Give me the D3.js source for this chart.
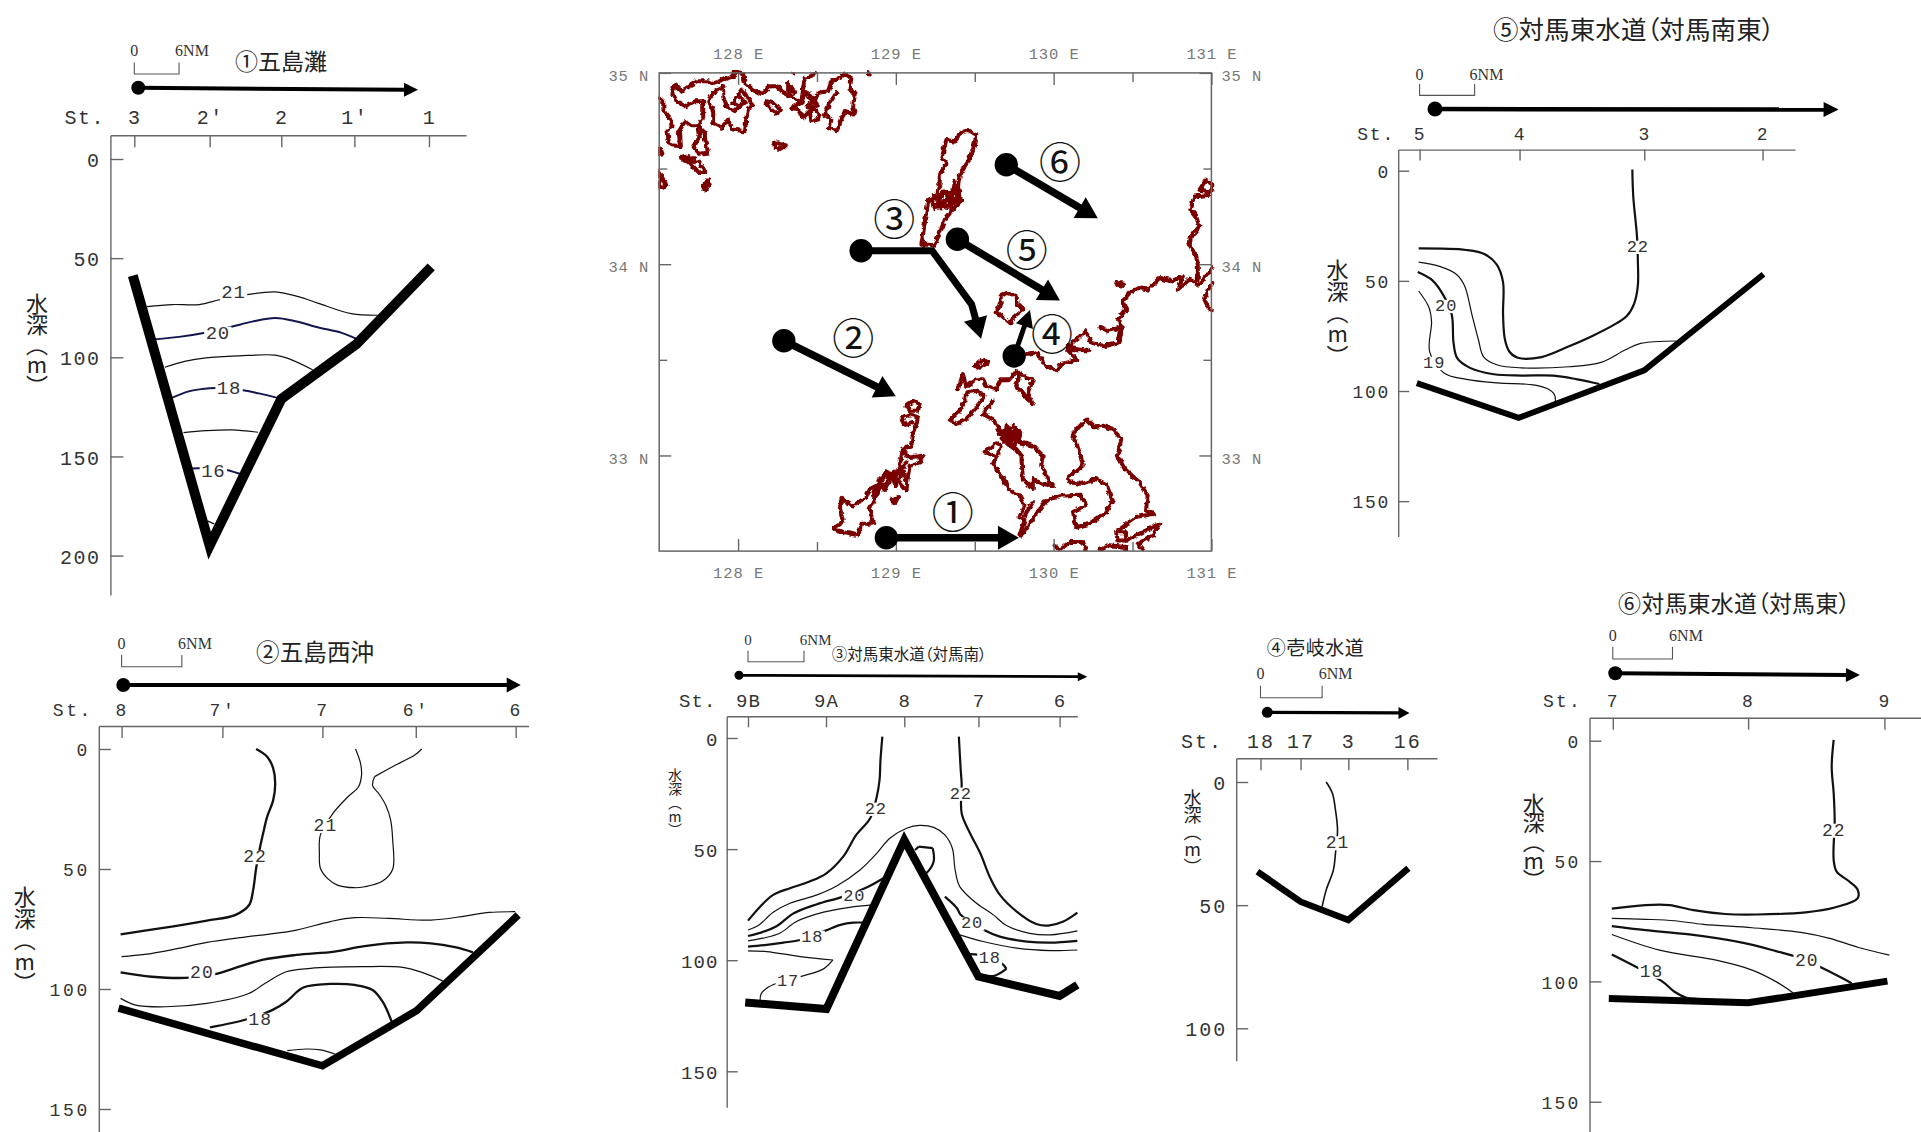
<!DOCTYPE html>
<html><head><meta charset="utf-8">
<style>html,body{margin:0;padding:0;background:#fff}svg{display:block}</style>
<script src="https://cdnjs.cloudflare.com/ajax/libs/d3/7.8.5/d3.min.js"></script>
</head><body><svg id="c" width="1921" height="1132" xmlns="http://www.w3.org/2000/svg"></svg>
<script>
// ---------- section data: x = nautical miles along section, d = depth (m) ----------
const p1Title="①五島灘";
const p1Stations=["3","2′","2","1′","1"];
const p1StationNM=[0,10.1,19.7,29.5,39.5];
const p1Depths=[0,50,100,150,200];
const p1Bottom=[[-0.2,58.8],[10.1,195],[19.7,121],[29.8,93.3],[39.8,54.4]];
const p1Contours=[
 {t:21,pts:[[1.7,74.4],[5.1,73.4],[8.7,73.4],[11.6,70.8],[15.1,68.4],[18.9,67],[22,69.4],[24.7,72.8],[29.1,78],[32.7,78.8]]},
 {t:20,pts:[[2.3,91.1],[6,89.7],[9.3,87.7],[12.9,84.7],[15.8,82],[18.9,80.2],[21.6,81.8],[24.7,85],[27.8,87.7],[30.7,92.3]]},
 {t:19,pts:[[4.1,105],[6.9,101.9],[9.6,100.3],[14,99.3],[18.9,98.9],[20.7,100.7],[23.9,106.3]]},
 {t:18,pts:[[4.7,121],[7.3,117.2],[9.1,116],[10.9,115.5],[14.4,116.5],[16.7,118.2],[20,121.2]]},
 {t:17,pts:[[6.6,138],[9.6,137],[13.1,136.6],[16.6,137.8]]},
 {t:16,pts:[[7.4,156.1],[8.8,155.9],[12.2,156.7],[14.8,159.7]]},
 {t:15,pts:[[9.8,182.5],[10.7,184]]}];
const p1Labels=[[21,13.3,67.4],[20,11.2,88.3],[18,12.7,116.2],[16,10.6,157.7]];

const p2Title="②五島西沖";
const p2Stations=["8","7′","7","6′","6"];
const p2StationNM=[0,10.04,20,29.3,39.25];
const p2Depths=[0,50,100,150];
const p2Bottom=[[-0.3,108],[20,132],[29.4,109],[39.5,69.2]];
const p2Contours=[
 {t:22,pts:[[13.4,0],[14.5,3.2],[15.1,8.1],[15.3,14.3],[15.1,21.3],[14.5,28.2],[14.1,35.1],[13.8,40.7],[13.4,49.7],[13.1,58.8],[12.7,65],[11.3,69.2],[8.5,71.5],[5,74],[-0.1,77.2]]},
 {t:21,pts:[[23.3,0],[23.8,6],[23.9,10.8],[23.6,15.7],[22.5,20.1],[21,27.1],[19.8,35.8],[19.7,43.5],[19.8,49.7],[20.5,53.9],[21.5,56.7],[23.2,57.8],[24.2,57.4],[26,55],[27,50.1],[27,37.9],[26.8,29.6],[26.3,23.3],[25.6,18.5],[25,15.3],[25.2,11.5]]},
 {t:21,pts:[[25.2,11.5],[27.3,6.7],[29.2,2.5],[29.9,0]]},
 {t:21,pts:[[0,86.5],[2.3,85.6],[5.4,83.3],[8.5,80.6],[12.6,78.2],[17,75.8],[20.8,71.9],[23.2,70.3],[26.6,70.6],[30.8,71.3],[34.2,69.6],[36.6,68.1],[39.2,67.8]]},
 {t:20,pts:[[-0.1,93.1],[3,94.9],[6.8,95.3],[9.3,93.8],[11.2,91.4],[14,87.9],[17.4,85.8],[21.2,84.4],[24.2,82.1],[28.4,80.6],[30.8,81],[33.2,82.6],[35,84.7]]},
 {t:19,pts:[[-0.1,103.9],[1.4,106.7],[4.4,107.4],[8.5,106],[12.6,102],[14.3,97.6],[16.4,92.8],[18.8,91.4],[23.9,90.7],[28,91],[30,93.2],[32,96.7]]},
 {t:18,pts:[[8.8,116],[12.6,112.5],[15,108.8],[16.4,105.3],[18.1,99.4],[20.8,97.9],[23.2,98.3],[25,100.4],[26,105.3],[26.9,113.6]]},
 {t:17,pts:[[16.5,125.7],[18.4,125],[19.8,125.4],[21.3,127.2]]}];
const p2Labels=[[22,13.3,45.1],[21,20.3,32.1],[20,8,93.5],[18,13.8,112.9]];

const p3Title="③対馬東水道（対馬南）";
const p3Stations=["9B","9A","8","7","6"];
const p3StationNM=[0,8.36,16.75,24.7,33.4];
const p3Depths=[0,50,100,150];
const p3Bottom=[[-0.3,119],[8.4,122],[16.75,45.9],[24.7,107.4],[33.4,116.1],[35.3,111.1]];
const p3Contours=[
 {t:22,pts:[[14.4,-0.6],[14.2,9.9],[14.1,18.9],[13.8,26.4],[13.1,36.1],[11.6,43.6],[10.2,53.4],[8.4,60.9],[6.6,64.6],[4.5,67.6],[2.7,70.6],[1.3,75.9],[0,82.2]]},
 {t:22,pts:[[22.6,-0.6],[22.8,14.4],[22.9,20.4],[22.9,33.9],[23.8,42.9],[24.9,51.9],[25.9,62.4],[27,70.6],[28.8,78.1],[30.9,83.7],[32.2,84.4],[33.8,82.6],[35.3,78.6]]},
 {t:21,pts:[[0,86.4],[1.1,84.4],[2.7,78.4],[4.5,74.4],[7.4,70.6],[9.5,66.6],[12,59.4],[13.8,51.9],[15.2,45.1],[17,40.6],[18.4,39.3],[19.9,40.2],[21.1,43.6],[21.9,49.6],[22.2,59.4],[22.7,66.9],[24.5,74.4],[26.3,79.6],[27.7,84.4],[30.2,87.9],[32.4,88.6],[35.3,86.8]]},
 {t:20,pts:[[0,89.1],[1.7,87.1],[3.1,84.6],[4.9,78.9],[7.4,74.8],[10.2,71.4],[12.7,67.3],[14.5,63.1]]},
 {t:20,pts:[[17.9,50.4],[18.3,48.9]]},
 {t:20,pts:[[18.3,48.9],[19.8,49.6]]},
 {t:20,pts:[[19.8,49.6],[19.9,55.6],[19.1,60.9],[18.6,62]]},
 {t:20,pts:[[21.1,71.4],[22.4,76.6],[22.8,79.6],[25.3,86.4],[27,89.4],[29.9,91.6],[32.4,92.1],[35.3,91.3]]},
 {t:19,pts:[[0,91.3],[1.6,90.1],[3.4,87.9],[5.2,82.6],[8.1,78.4],[10.9,76.2],[13.3,75.1]]},
 {t:19,pts:[[22.7,88.6],[25.2,91.6],[28.8,94.6],[32.4,95.7],[35.3,95.4]]},
 {t:18,pts:[[0,93.9],[2,93.1],[3.8,92.1],[5.6,90.9],[8.3,86.7],[9.9,84.1],[11.3,83.1],[12.4,83.1]]},
 {t:18,pts:[[23.8,97.3],[24.7,97.6],[27.2,101.4],[27.7,103.9]]},
 {t:18,pts:[[27.7,103.9],[26.3,107.1],[24.9,106.3]]},
 {t:17,pts:[[0,95.8],[2,96.1],[5.6,98.4],[9.1,99.9]]},
 {t:17,pts:[[9.1,99.9],[8.1,103.9],[5.6,107.4],[3.1,110.4],[2,112.6],[1.4,115.2],[1.3,117.9]]}];
const p3Labels=[[22,13.7,32.1],[22,22.8,25.3],[20,11.4,71.4],[20,24,83.7],[18,6.9,89.7],[18,25.9,99.1],[17,4.3,109.6]];

const p4Title="④壱岐水道";
const p4Stations=["18","17","3","16"];
const p4StationNM=[0,3.9,8.55,14.3];
const p4Depths=[0,50,100];
const p4Bottom=[[-0.3,36.4],[3.9,48.6],[8.55,56],[14.4,35]];
const p4Contours=[{t:21,pts:[[6.4,0],[7,4.6],[7.3,11.4],[7.5,19.5],[7.3,29],[7.1,35.7],[6.4,43.8],[6,50.6]]}];
const p4Labels=[[21,7.5,24.9]];

const p5Title="⑤対馬東水道（対馬南東）";
const p5Stations=["5","4","3","2"];
const p5StationNM=[0,10.9,24.5,37.4];
const p5Depths=[0,50,100,150];
const p5Bottom=[[-0.3,96.4],[10.8,112.2],[24.5,90.6],[37.5,47]];
const p5Contours=[
 {t:22,pts:[[23.2,-0.5],[23.3,11.7],[23.7,29.5],[23.8,40.8],[23.8,52.2],[23.4,60.3],[22.6,66],[21.5,69.2],[18.9,74.9],[16.3,79.7],[13.3,84.6],[10.7,84.9],[9.8,82.2],[9.3,76.5],[9.1,65.2],[9.1,50.6],[8.4,42.5],[7.1,37.9],[5.1,36],[-0.1,35.3]]},
 {t:21,pts:[[-0.1,41.5],[2.1,43.3],[4,47],[4.9,52.2],[5.7,65.2],[6.4,76.5],[7,84.6],[8.5,88.2],[11.1,89.5],[16.3,89],[19.8,87],[22.4,81.4],[24.1,78.4],[28,77.3]]},
 {t:20,pts:[[-0.2,46],[1.4,49.8],[2.6,56.6],[3.5,65.2],[3.7,78.1],[4.1,85.1],[5.5,89.5],[8.1,92.4],[11.1,93],[14.6,93],[17.2,94.7],[19.6,96.8]]},
 {t:19,pts:[[-0.1,54.6],[1,61.9],[1.3,68.4],[1.1,82.2],[2.7,91.9],[5.1,94.7],[8.5,96.3],[12.4,97.2],[13.9,98.9],[14.7,101.6],[14.8,104.9]]}];
const p5Labels=[[22,23.8,34.8],[20,2.9,61.6],[19,1.6,87.5]];

const p6Title="⑥対馬東水道（対馬東）";
const p6Stations=["7","8","9"];
const p6StationNM=[0,13.6,27.3];
const p6Depths=[0,50,100,150];
const p6Bottom=[[-0.4,107.1],[13.6,108.9],[27.6,99.9]];
const p6Contours=[
 {t:22,pts:[[22.2,-0.3],[22,10.8],[22.2,21.9],[22.3,33],[22.2,49.6],[22.5,54.4],[23.8,58.6],[24.6,61.8],[24.6,65.5],[22.3,69.3],[19.4,71.3],[14.5,72.2],[11.3,72],[8.1,70.4],[5.7,68.3],[3.3,68.3],[-0.1,69.8]]},
 {t:21,pts:[[-0.1,73.8],[3.3,74.2],[6.2,74.8],[9.1,76.3],[14,77.7],[18.9,79.6],[21.8,82.1],[24.7,85.9],[27.8,89.1]]},
 {t:20,pts:[[-0.1,77],[3.3,78.7],[7.7,80.5],[13,83.9],[16.4,87.4],[18.6,90],[20.8,93.9],[22.8,98.1],[24,100.8]]},
 {t:19,pts:[[-0.1,80.5],[4.7,87],[10.6,91.4],[14,95.3],[16.4,100.1],[18.1,104.7]]},
 {t:18,pts:[[-0.1,88.8],[2.5,94.3],[5,100.1],[6.2,104.3],[7.4,106.8],[8.4,107.3]]}];
const p6Labels=[[22,22.2,37.4],[20,19.5,91.6],[18,3.9,96]];

const yLabelText="水深（m）";
const scaleBarNM=6;

// ---------- map data: [lon, lat] ----------
const mapLon=[128,129,130,131];
const mapLat=[35,34,33];
const mapLonHalf=[128.5,129.5,130.5];
const mapLatHalf=[34.5,33.5];
const coastKorea=[
 [[127.498,34.873],[127.526,34.852],[127.526,34.808],[127.568,34.765],[127.579,34.721],[127.553,34.695],[127.557,34.652],[127.579,34.622],[127.631,34.617],[127.625,34.695],[127.663,34.747],[127.705,34.721],[127.747,34.721],[127.779,34.765],[127.779,34.852],[127.726,34.852],[127.663,34.826],[127.61,34.852],[127.579,34.904],[127.6,34.939],[127.642,34.904],[127.684,34.93],[127.737,34.956],[127.811,34.956],[127.842,34.947],[127.906,34.965],[127.969,34.982],[127.979,35.008],[128.032,34.999],[128.043,34.947],[128.095,34.913],[128.148,34.89],[128.201,34.93],[128.254,34.93],[128.285,34.895],[128.359,34.869],[128.401,34.843],[128.412,34.921],[128.423,34.973],[128.486,34.991]],
 [[127.906,34.93],[127.842,34.895],[127.811,34.852],[127.842,34.8],[127.842,34.739],[127.895,34.713],[127.937,34.756],[127.969,34.704],[128.043,34.695],[128.053,34.765],[128.064,34.817],[128.095,34.826],[128.053,34.878],[128.022,34.913],[127.979,34.86],[127.969,34.843],[128.001,34.826],[128.043,34.843],[128.011,34.878]],
 [[127.906,34.93],[127.906,34.869],[127.927,34.826],[127.979,34.8],[128.011,34.826]],
 [[127.747,34.721],[127.79,34.687],[127.79,34.652],[127.811,34.582],[127.747,34.577],[127.716,34.617],[127.758,34.669],[127.747,34.721]],
 [[127.638,34.556],[127.684,34.565],[127.716,34.553],[127.663,34.539],[127.638,34.556]],
 [[127.695,34.53],[127.747,34.539],[127.79,34.487],[127.758,34.473],[127.695,34.53]],
 [[127.811,34.443],[127.821,34.417],[127.79,34.391],[127.779,34.409],[127.811,34.443]],
 [[127.498,34.608],[127.515,34.577],[127.49,34.577],[127.498,34.608]],
 [[127.49,34.487],[127.526,34.443],[127.547,34.417],[127.526,34.4],[127.49,34.408],[127.515,34.435],[127.49,34.487]],
 [[128.18,34.852],[128.233,34.838],[128.271,34.803],[128.233,34.791],[128.201,34.817],[128.169,34.843],[128.18,34.852]],
 [[128.228,34.64],[128.264,34.629],[128.302,34.622],[128.275,34.6],[128.233,34.608],[128.228,34.64]],
 [[128.317,34.947],[128.359,34.895],[128.317,34.904],[128.317,34.947]],
 [[128.338,34.817],[128.401,34.843],[128.423,34.895],[128.465,34.878],[128.475,34.852],[128.507,34.895],[128.57,34.904],[128.591,34.956],[128.676,34.991],[128.718,34.973],[128.707,34.921],[128.739,34.887],[128.729,34.826],[128.739,34.782],[128.676,34.8],[128.644,34.73],[128.623,34.695],[128.581,34.713],[128.591,34.756],[128.549,34.782],[128.581,34.843],[128.623,34.895]],
 [[128.338,34.817],[128.38,34.808],[128.412,34.765],[128.454,34.8],[128.475,34.817],[128.517,34.782],[128.507,34.756],[128.465,34.747],[128.454,34.8]],
 [[128.43,34.9],[128.47,34.85],[128.44,34.82],[128.5,34.83],[128.46,34.88]],
 [[128.349,34.999],[128.355,34.997]],[[128.823,34.994],[128.83,34.992]],[[128.476,34.999],[128.49,34.999]]];
const coastTsushima=[
 [[129.162,34.102],[129.183,34.215],[129.204,34.328],[129.257,34.346],[129.278,34.424],[129.278,34.467],[129.32,34.528],[129.289,34.554],[129.32,34.65],[129.373,34.641],[129.405,34.684],[129.458,34.702],[129.51,34.676],[129.489,34.598],[129.458,34.537],[129.405,34.467],[129.394,34.406],[129.415,34.328],[129.352,34.276],[129.31,34.233],[129.278,34.163],[129.247,34.102],[129.162,34.102]],
 [[129.226,34.337],[129.31,34.38],[129.384,34.372],[129.405,34.328],[129.331,34.302],[129.247,34.293],[129.226,34.337]],
 [[129.268,34.363],[129.289,34.302]],[[129.32,34.38],[129.352,34.285]],[[129.363,34.441],[129.384,34.363]],[[129.236,34.311],[129.394,34.346]],
 [[129.24,34.36],[129.3,34.31],[129.37,34.4],[129.33,34.3],[129.39,34.33],[129.3,34.38],[129.27,34.3],[129.35,34.36]]];
const coastIki=[
 [[129.664,33.833],[129.711,33.85],[129.764,33.833],[129.774,33.789],[129.806,33.763],[129.753,33.729],[129.721,33.69],[129.679,33.72],[129.637,33.749],[129.664,33.789],[129.664,33.833]],
 [[129.5,33.468],[129.553,33.503],[129.584,33.485],[129.531,33.459],[129.5,33.468]]];
const coastHonshu=[
 [[130.397,33.902],[130.449,33.899],[130.42,33.886],[130.397,33.902]],
 [[129.83,33.53],[129.89,33.54],[129.95,33.47],[130.02,33.44],[130.05,33.48],[130.15,33.5],[130.09,33.55],[130.22,33.55],[130.09,33.57],[130.15,33.61],[130.2,33.65],[130.24,33.59],[130.32,33.57],[130.41,33.59],[130.43,33.67],[130.34,33.65],[130.29,33.67]],
 [[130.43,33.67],[130.407,33.711],[130.46,33.763],[130.439,33.807],[130.481,33.85],[130.534,33.876],[130.597,33.868],[130.671,33.928],[130.745,33.911],[130.819,33.937],[130.787,33.868],[130.861,33.92],[130.924,33.894],[131.008,33.981]],
 [[130.914,33.92],[130.914,33.946],[130.914,33.998],[130.903,34.041],[130.861,34.102],[130.871,34.146],[130.924,34.198],[130.903,34.25],[130.867,34.285],[130.892,34.354],[130.987,34.363]],
 [[130.924,34.389],[130.966,34.441],[131.008,34.415],[131,34.38],[130.924,34.389]],
 [[131.008,33.902],[130.977,33.868],[130.956,33.815],[130.987,33.763],[131.008,33.755]]];
const coastGoto=[
 [[129.067,33.26],[129.109,33.286],[129.151,33.269],[129.14,33.234],[129.088,33.234],[129.067,33.26]],
 [[129.035,33.199],[129.088,33.216],[129.14,33.199],[129.13,33.164],[129.109,33.121],[129.098,33.051],[129.046,33.034],[129.077,32.99],[129.172,32.999],[129.151,32.964],[129.088,32.947],[129.077,32.895],[129.067,32.817],[129.024,32.86],[128.94,32.912],[128.898,32.851],[128.835,32.825],[128.813,32.782],[128.729,32.738],[128.655,32.773],[128.645,32.721],[128.666,32.652],[128.602,32.617],[128.666,32.599],[128.761,32.582],[128.782,32.643],[128.856,32.643],[128.834,32.721],[128.877,32.791],[128.919,32.843],[129.014,32.912],[129.067,32.964]],
 [[129.046,33.034],[129.024,32.947],[128.982,32.895],[129.024,32.86]],
 [[128.94,32.912],[128.961,32.86],[128.887,32.825],[128.856,32.782]],
 [[128.86,32.8],[128.9,32.88],[128.93,32.82],[128.97,32.9],[129,32.84],[129.04,32.93],[129.06,32.87]],
 [[129.035,33.199],[129.06,33.16],[129.109,33.17]],
 [[128.972,32.765],[129.014,32.782],[128.993,32.747],[128.972,32.765]]];
const coastKyushu=[
 [[129.341,33.182],[129.383,33.164],[129.446,33.19],[129.51,33.251],[129.562,33.312],[129.51,33.338],[129.446,33.329],[129.436,33.286],[129.404,33.234],[129.341,33.182]],
 [[129.394,33.347],[129.425,33.425],[129.446,33.364],[129.51,33.399],[129.552,33.399],[129.573,33.364],[129.636,33.347],[129.668,33.399],[129.721,33.399],[129.763,33.442],[129.805,33.416],[129.868,33.399],[129.837,33.329],[129.868,33.268],[129.826,33.303],[129.763,33.364],[129.784,33.416]],
 [[129.615,33.286],[129.552,33.216],[129.615,33.19],[129.668,33.121],[129.742,33.156],[129.795,33.121],[129.784,33.069],[129.868,33.051],[129.931,33],[129.921,32.947],[129.974,32.86],[129.995,32.843],[129.932,32.851],[129.868,32.877],[129.868,32.825],[129.805,32.877],[129.795,32.999],[129.763,33.034],[129.731,33.051],[129.668,33.121]],
 [[129.657,33.112],[129.784,33.121],[129.742,33.034],[129.689,33.103],[129.795,33.069],[129.7,33.156],[129.731,33.043],[129.67,33.09],[129.77,33.14],[129.72,33.08],[129.78,33.09]],
 [[129.562,33.016],[129.636,33.069],[129.668,33.051],[129.636,32.99],[129.615,32.956],[129.668,32.895],[129.721,32.817],[129.784,32.791],[129.816,32.738],[129.784,32.678],[129.816,32.66],[129.784,32.582]],
 [[129.562,33.016],[129.594,33.008],[129.636,32.99]],
 [[129.816,32.686],[129.868,32.756]],
 [[129.795,32.582],[129.868,32.669],[129.953,32.765],[130.058,32.791],[130.174,32.794],[130.206,32.738],[130.122,32.704],[130.143,32.625],[130.227,32.643],[130.333,32.704],[130.375,32.765],[130.333,32.851],[130.269,32.877],[130.185,32.851],[130.1,32.86],[130.09,32.886],[130.185,32.947],[130.164,33.017],[130.122,33.112],[130.206,33.19],[130.259,33.147],[130.312,33.156],[130.375,33.138],[130.428,33.086],[130.407,32.999],[130.449,32.93],[130.544,32.86],[130.596,32.791],[130.586,32.712],[130.639,32.695],[130.522,32.678],[130.396,32.599],[130.406,32.556],[130.459,32.556],[130.459,32.599],[130.396,32.599]],
 [[130.459,32.556],[130.67,32.643],[130.628,32.582],[130.533,32.539],[130.575,32.495]],
 [[130.006,32.53],[130.037,32.504],[130.1,32.547],[130.185,32.547],[130.206,32.495]],
 [[130.29,32.504],[130.354,32.53],[130.459,32.521],[130.459,32.495]]];
const routes=[
 {n:"①",pts:[[128.94,32.57],[129.78,32.57]],at:[129.36,32.71]},
 {n:"②",pts:[[128.29,33.6],[129,33.31]],at:[128.73,33.62]},
 {n:"③",pts:[[128.78,34.07],[129.23,34.07],[129.48,33.79],[129.54,33.61]],at:[128.99,34.24]},
 {n:"④",pts:[[129.75,33.52],[129.85,33.76]],at:[129.99,33.64]},
 {n:"⑤",pts:[[129.39,34.13],[130.04,33.81]],at:[129.83,34.08]},
 {n:"⑥",pts:[[129.7,34.52],[130.28,34.24]],at:[130.04,34.54]}];

// ---------- layout ----------
const CJK='"Noto Sans CJK JP"', MONO='"Liberation Mono"', SERIF='"Liberation Serif"';
const layouts=[
 {title:p1Title,st:p1Stations,nm:p1StationNM,dep:p1Depths,bot:p1Bottom,con:p1Contours,lab:p1Labels,
  x0:134.3,nmPx:7.46,y0:159,mPx:1.983,L:110.4,T:135.2,R:466,B:595,tick:13,stTick:12,
  fs:20,ls:1.5,lfs:19,lls:.8,botW:10,stX:105,stPad:11,yPad:10,
  tx:235,ty:59.5,tw:92,tfs:23,barT:62.5,barB:74,blY:50,bfs:16,b6:192,
  dot:[138.3,87.8],tip:[418,89.8],sw:4,hl:14,hw:14,r:7,thin:1.2,bold:2,
  ylX:37,ylFs:22,ylY:[304,385.5],navy:true},
 {title:p2Title,st:p2Stations,nm:p2StationNM,dep:p2Depths,bot:p2Bottom,con:p2Contours,lab:p2Labels,
  x0:121.6,nmPx:10.04,y0:749,mPx:2.4,L:98.8,T:726,R:528.6,B:1132,tick:12,stTick:12,
  fs:18,ls:2.6,lfs:18,lls:1,botW:7.5,stX:93,stPad:10,yPad:9,
  tx:256,ty:651,tw:118,tfs:23.5,barT:655,barB:666.7,blY:643,bfs:16,b6:195,
  dot:[123.3,685],tip:[520.7,685],sw:4,hl:14,hw:15,r:7,thin:1.2,bold:2.3,
  ylX:24.8,ylFs:22,ylY:[896.7,982.7]},
 {title:p3Title,st:p3Stations,nm:p3StationNM,dep:p3Depths,bot:p3Bottom,con:p3Contours,lab:p3Labels,
  x0:748,nmPx:9.33,y0:738,mPx:2.222,L:726.7,T:716.3,R:1077.3,B:1107.3,tick:11,stTick:11,
  fs:19,ls:1.2,lfs:17,lls:.8,botW:8,stX:716.7,stPad:9,yPad:8,
  tx:831.7,ty:653,tw:155,tfs:15.5,barT:650.7,barB:661.7,blY:640,bfs:15,b6:815.7,
  dot:[739,675.3],tip:[1087.3,676.7],sw:2.8,hl:9.5,hw:9,r:4.5,thin:1.2,bold:2.2,
  ylX:675,ylFs:14,ylY:[775,830]},
 {title:p4Title,st:p4Stations,nm:p4StationNM,dep:p4Depths,bot:p4Bottom,con:p4Contours,lab:p4Labels,
  x0:1260.5,nmPx:10.27,y0:782,mPx:2.463,L:1236.2,T:758.3,R:1437,B:1060.7,tick:12,stTick:12,
  fs:20,ls:2,lfs:18,lls:1,botW:6.5,stX:1223,stPad:10,yPad:9,
  tx:1266.8,ty:646.3,tw:97,tfs:19,barT:685.7,barB:697.7,blY:673.3,bfs:16,b6:1335.7,
  dot:[1267.3,712.3],tip:[1409.5,713],sw:3.2,hl:11,hw:12,r:5.5,thin:1.6,bold:2,
  ylX:1192.5,ylFs:18,ylY:[798,866.7]},
 {title:p5Title,st:p5Stations,nm:p5StationNM,dep:p5Depths,bot:p5Bottom,con:p5Contours,lab:p5Labels,
  x0:1419.6,nmPx:9.17,y0:170.7,mPx:2.203,L:1398.2,T:149.6,R:1795,B:536.4,tick:11,stTick:11,
  fs:18,ls:1.8,lfs:17,lls:1,botW:6,stX:1395,stPad:9.5,yPad:8,
  tx:1492.9,ty:27.6,tw:281.6,tfs:25.5,barT:84,barB:95.4,blY:74,bfs:16,b6:1486.5,
  dot:[1435,109],tip:[1838.6,109.6],sw:4.5,hl:15,hw:15,r:7.5,thin:1.2,bold:2.2,
  ylX:1337.6,ylFs:22,ylY:[270,355.4]},
 {title:p6Title,st:p6Stations,nm:p6StationNM,dep:p6Depths,bot:p6Bottom,con:p6Contours,lab:p6Labels,
  x0:1612.8,nmPx:9.95,y0:740.7,mPx:2.407,L:1589.5,T:717.7,R:1921,B:1132,tick:12,stTick:12,
  fs:18,ls:2.2,lfs:18,lls:1,botW:7,stX:1582,stPad:11,yPad:9,
  tx:1618,ty:602,tw:232,tfs:23,barT:646.7,barB:659,blY:635,bfs:16,b6:1686,
  dot:[1615.3,673.3],tip:[1859.9,675],sw:4,hl:14,hw:14,r:7,thin:1.2,bold:2.2,
  ylX:1533.7,ylFs:22,ylY:[804,880]}];

const svg=d3.select("#c");
const AX="#666", TXT="#333";

function arrow(g,pts,sw,hl,hw,r){
  const n=pts.length,a=pts[n-2],b=pts[n-1];
  const dx=b[0]-a[0],dy=b[1]-a[1],len=Math.hypot(dx,dy),ux=dx/len,uy=dy/len;
  const base=[b[0]-ux*hl,b[1]-uy*hl];
  const shaft=pts.slice(0,n-1).concat([[base[0]+ux,base[1]+uy]]);
  g.append("path").attr("d",d3.line()(shaft)).attr("fill","none").attr("stroke","#000").attr("stroke-width",sw).attr("stroke-linejoin","miter");
  g.append("path").attr("d",d3.line()([b,[base[0]-uy*hw/2,base[1]+ux*hw/2],[base[0]+uy*hw/2,base[1]-ux*hw/2]])+"Z").attr("fill","#000");
  g.append("circle").attr("cx",pts[0][0]).attr("cy",pts[0][1]).attr("r",r).attr("fill","#000");
}

layouts.forEach(p=>{
  const g=svg.append("g");
  const x=d3.scaleLinear().domain([(p.L-p.x0)/p.nmPx,(p.R-p.x0)/p.nmPx]).range([p.L,p.R]);
  const y=d3.scaleLinear().domain([(p.T-p.y0)/p.mPx,(p.B-p.y0)/p.mPx]).range([p.T,p.B]);
  const ya=g.append("g").attr("transform",`translate(${p.L},0)`)
    .call(d3.axisLeft(y).tickValues(p.dep).tickSizeInner(-p.tick).tickSizeOuter(0).tickPadding(p.yPad));
  const lookup=new Map(p.nm.map((v,i)=>[v,p.st[i]]));
  const xa=g.append("g").attr("transform",`translate(0,${p.T})`)
    .call(d3.axisTop(x).tickValues(p.nm).tickFormat(v=>lookup.get(v)).tickSizeInner(-p.stTick).tickSizeOuter(0).tickPadding(p.stPad));
  [ya,xa].forEach(a=>{
    a.selectAll("path,line").attr("stroke",AX).attr("stroke-width",1.4);
    a.selectAll("text").attr("font-family",MONO).attr("font-size",p.fs).attr("letter-spacing",p.ls).attr("fill",TXT);
  });
  ya.selectAll("text").attr("dy",".38em");
  g.append("text").text("St.").attr("x",p.stX).attr("y",p.T-p.stPad).attr("text-anchor","end")
    .attr("font-family",MONO).attr("font-size",p.fs).attr("letter-spacing",p.ls).attr("fill",TXT);
  // y label: a single vertical text
  const pitch=(p.ylY[1]-p.ylY[0])/(yLabelText.length-1);
  g.append("text").text(yLabelText).attr("x",p.ylX).attr("y",p.ylY[0]-p.ylFs/2)
    .style("writing-mode","vertical-rl").style("text-orientation","upright")
    .attr("letter-spacing",pitch-p.ylFs)
    .attr("font-family",CJK).attr("font-size",p.ylFs).attr("fill","#222");
  // title
  g.append("text").text(p.title).attr("x",p.tx).attr("y",p.ty).attr("dominant-baseline","central")
    .attr("textLength",p.tw).attr("lengthAdjust","spacing").style("font-feature-settings",'"palt"')
    .attr("font-family",CJK).attr("font-size",p.tfs).attr("fill","#222");
  // scale bar
  g.append("path").attr("d",d3.line()([[x(0),p.barT],[x(0),p.barB],[x(scaleBarNM),p.barB],[x(scaleBarNM),p.barT]]))
    .attr("fill","none").attr("stroke","#555").attr("stroke-width",1.1);
  g.append("text").text("0").attr("x",x(0)).attr("y",p.blY).attr("text-anchor","middle").attr("dominant-baseline","central")
    .attr("font-family",SERIF).attr("font-size",p.bfs).attr("fill",TXT);
  g.append("text").text("6NM").attr("x",p.b6).attr("y",p.blY).attr("text-anchor","middle").attr("dominant-baseline","central")
    .attr("font-family",SERIF).attr("font-size",p.bfs).attr("fill",TXT);
  arrow(g,[p.dot,p.tip],p.sw,p.hl,p.hw,p.r);
  const line=d3.line().x(d=>x(d[0])).y(d=>y(d[1]));
  const smooth=d3.line().x(d=>x(d[0])).y(d=>y(d[1])).curve(d3.curveCatmullRom.alpha(.5));
  p.con.forEach(c=>{
    const even=c.t%2===0;
    g.append("path").attr("d",smooth(c.pts)).attr("fill","none")
      .attr("stroke",p.navy&&even?"#14144f":"#111").attr("stroke-width",even?p.bold:p.thin);
  });
  g.append("path").attr("d",line(p.bot)).attr("fill","none").attr("stroke","#000").attr("stroke-width",p.botW)
    .attr("stroke-linejoin","miter").attr("stroke-miterlimit",12);
  p.lab.forEach(l=>{
    const w=String(l[0]).length*(p.lfs*.6+p.lls)+3, h=p.lfs*.78;
    g.append("rect").attr("x",x(l[1])-w/2).attr("y",y(l[2])-h/2).attr("width",w).attr("height",h).attr("fill","#fff");
    g.append("text").text(l[0]).attr("x",x(l[1])).attr("y",y(l[2])).attr("text-anchor","middle").attr("dominant-baseline","central")
      .attr("font-family",MONO).attr("font-size",p.lfs).attr("letter-spacing",p.lls).attr("fill",TXT);
  });
});

// ---------- map ----------
const mL=659.2,mR=1211.4,mT=72.9,mB=551.1;
const lon=d3.scaleLinear().domain([127.5,131]).range([mL,mR]);
const lat=d3.scaleLinear().domain([35,32.5]).range([mT,mB]);
const m=svg.append("g");
const defs=svg.append("defs");
defs.append("clipPath").attr("id","mapclip").append("rect").attr("x",mL-1).attr("y",mT-3).attr("width",mR-mL+4).attr("height",mB-mT+3);
const rough=defs.append("filter").attr("id","rough").attr("filterUnits","userSpaceOnUse").attr("x",mL-10).attr("y",mT-10).attr("width",mR-mL+20).attr("height",mB-mT+20);
rough.append("feTurbulence").attr("type","fractalNoise").attr("baseFrequency",.2).attr("numOctaves",2).attr("seed",4).attr("result","n");
rough.append("feDisplacementMap").attr("in","SourceGraphic").attr("in2","n").attr("scale",5).attr("xChannelSelector","R").attr("yChannelSelector","G");
const coastLine=d3.line().x(d=>lon(d[0])).y(d=>lat(d[1]));
const coast=m.append("g").attr("clip-path","url(#mapclip)").append("g").attr("filter","url(#rough)");
[coastKorea,coastTsushima,coastIki,coastHonshu,coastGoto,coastKyushu].forEach(set=>set.forEach(s=>{
  coast.append("path").attr("d",coastLine(s)).attr("fill","none").attr("stroke","#7a0000").attr("stroke-width",4)
    .attr("stroke-linejoin","round").attr("stroke-linecap","round");
}));
m.append("rect").attr("x",mL).attr("y",mT).attr("width",mR-mL).attr("height",mB-mT).attr("fill","none").attr("stroke","#666").attr("stroke-width",1.5);
function mapAxes(gen,pos,vals,half,fmt,inner,innerHalf,pad,dy){
  const a=m.append("g").attr("transform",pos).call(gen.tickValues(vals).tickFormat(fmt).tickSizeInner(inner).tickSizeOuter(0).tickPadding(pad));
  a.select(".domain").remove();
  a.selectAll("line").attr("stroke","#666").attr("stroke-width",1.4);
  a.selectAll("text").attr("font-family",MONO).attr("font-size",15.5).attr("letter-spacing",.9).attr("fill","#777");
  if(dy) a.selectAll("text").attr("dy",dy);
  const b=m.append("g").attr("transform",pos).call(gen.tickValues(half).tickFormat("").tickSizeInner(innerHalf).tickSizeOuter(0));
  b.select(".domain").remove();
  b.selectAll("line").attr("stroke","#666").attr("stroke-width",1.4);
}
const fE=v=>v+" E", fN=v=>v+" N";
mapAxes(d3.axisBottom(lon),`translate(0,${mB})`,mapLon,mapLonHalf,fE,-12,-9,16);
mapAxes(d3.axisTop(lon),`translate(0,${mT})`,mapLon,mapLonHalf,fE,-12,-9,14);
mapAxes(d3.axisLeft(lat),`translate(${mL},0)`,mapLat,mapLatHalf,fN,-12,-8,10,".5em");
mapAxes(d3.axisRight(lat),`translate(${mR},0)`,mapLat,mapLatHalf,fN,-12,-8,10,".5em");
routes.forEach((r,i)=>{
  const pts=r.pts.map(d=>[lon(d[0]),lat(d[1])]);
  arrow(m,pts,i===3?5:i===2?7:7.5,i===3?17:21,i===3?18:24,11.7);
  m.append("text").text(r.n).attr("x",lon(r.at[0])).attr("y",lat(r.at[1])-1.5).attr("text-anchor","middle").attr("dominant-baseline","central")
    .attr("font-family",CJK).attr("font-size",42).attr("fill","#111");
});
</script></body></html>
